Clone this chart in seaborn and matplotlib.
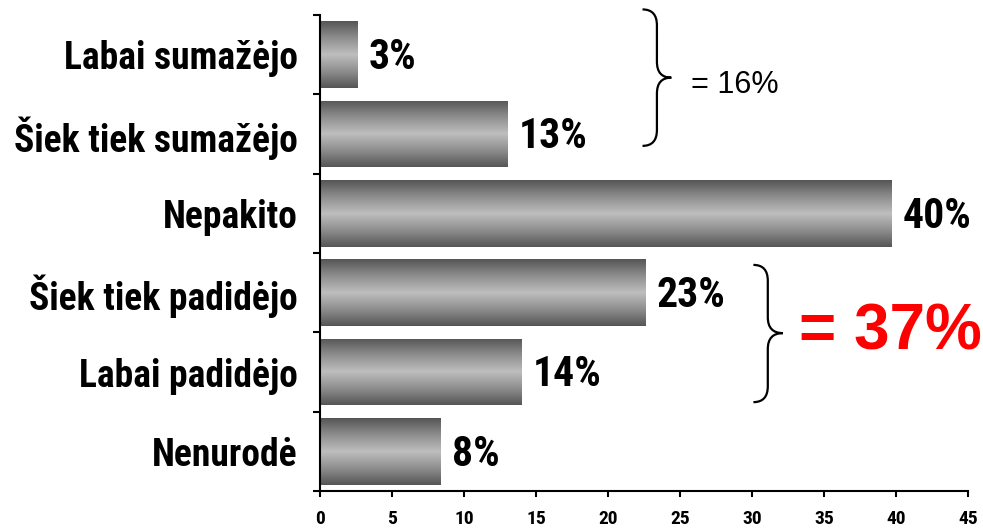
import numpy as np
import pandas as pd
import seaborn as sns
import matplotlib.pyplot as plt
from matplotlib.path import Path
from matplotlib.patches import PathPatch
from matplotlib.colors import LinearSegmentedColormap
from matplotlib.ticker import FixedLocator

# ── data ──────────────────────────────────────────────────────────────────────
categories = ["Labai sumažėjo", "Šiek tiek sumažėjo", "Nepakito",
              "Šiek tiek padidėjo", "Labai padidėjo", "Nenurodė"]
values = [2.6, 13.0, 39.7, 22.6, 14.0, 8.4]
value_labels = ["3%", "13%", "40%", "23%", "14%", "8%"]
x_ticks = [0, 5, 10, 15, 20, 25, 30, 35, 40, 45]
sum_down_label = "= 16%"
sum_up_label = "= 37%"

sns.set_style("white")
NARROW = ["Roboto Condensed", "Liberation Sans", "DejaVu Sans"]
ARIAL = ["Liberation Sans", "DejaVu Sans"]
plt.rcParams["font.family"] = NARROW

df = pd.DataFrame({"cat": categories, "val": values})

fig = plt.figure(figsize=(9.83, 5.31), dpi=100)
ax = fig.add_axes([0.3255, 0.0753, 0.6592, 0.8965])

sns.barplot(data=df, x="val", y="cat", orient="h", width=0.84,
            color="#888888", ax=ax)

# ── gradient fill clipped to each bar ─────────────────────────────────────────
cmap = LinearSegmentedColormap.from_list(
    "bar", ["#555555", "#8e8e8e", "#bebebe", "#8e8e8e", "#555555"])
grad = np.linspace(0, 1, 256).reshape(-1, 1)
for p in ax.patches:
    x0, y0 = p.get_x(), p.get_y()
    w, h = p.get_width(), p.get_height()
    p.set_facecolor("none")
    p.set_edgecolor("none")
    im = ax.imshow(grad, cmap=cmap, aspect="auto",
                   extent=(x0, x0 + w, y0 + h, y0), zorder=2,
                   interpolation="bilinear")
    im.set_clip_path(p)

ax.set_xlim(0, 45)
ax.set_ylim(len(categories) - 0.5, -0.5)

# value labels
for i, (v, lab) in enumerate(zip(values, value_labels)):
    ax.annotate(lab, (v, i), xytext=(8, -2), textcoords="offset points",
                ha="left", va="center", fontsize=30, fontweight="bold",
                family=NARROW, color="black")

# ── axes styling ──────────────────────────────────────────────────────────────
for s in ["top", "right"]:
    ax.spines[s].set_visible(False)
for s in ["left", "bottom"]:
    ax.spines[s].set_color("black")
    ax.spines[s].set_linewidth(1.5)

ax.set_xticks(x_ticks)
ax.set_xticklabels([str(t) for t in x_ticks], fontsize=14, fontweight="bold",
                   family=NARROW, color="black")
ax.tick_params(axis="x", direction="out", length=4.5, width=1.5, pad=9,
               bottom=True, color="black")
ax.set_yticks(range(len(categories)))
ax.set_yticklabels(categories, fontsize=27, fontweight="bold", family=NARROW,
                   color="black")
ax.tick_params(axis="y", which="major", length=0, pad=16)
ax.yaxis.set_minor_locator(FixedLocator(np.arange(-0.5, len(categories), 1)))
ax.tick_params(axis="y", which="minor", direction="out", length=5, width=1.5,
               left=True, color="black")
ax.set_xlabel("")
ax.set_ylabel("")


# ── braces ────────────────────────────────────────────────────────────────────
def brace(ax, x0, x1, x2, ytop, ymid, ybot, r):
    verts = [(x0, ytop), (x1, ytop), (x1, ytop + r),
             (x1, ymid - r), (x1, ymid), (x2, ymid),
             (x1, ymid), (x1, ymid + r),
             (x1, ybot - r), (x1, ybot), (x0, ybot)]
    codes = [Path.MOVETO, Path.CURVE3, Path.CURVE3,
             Path.LINETO, Path.CURVE3, Path.CURVE3,
             Path.CURVE3, Path.CURVE3,
             Path.LINETO, Path.CURVE3, Path.CURVE3]
    ax.add_patch(PathPatch(Path(verts, codes), fill=False, lw=1.6,
                           edgecolor="black", clip_on=False))


brace(ax, 22.4, 23.4, 24.4, -0.57, 0.29, 1.15, 0.2)
ax.text(25.8, 0.38, sum_down_label, fontsize=22, ha="left", va="center",
        family=ARIAL, color="black")

brace(ax, 30.1, 31.1, 32.15, 2.65, 3.51, 4.38, 0.2)
ax.text(33.3, 3.5, sum_up_label, fontsize=46, fontweight="bold", ha="left",
        va="center", family=ARIAL, color="#ff0000", clip_on=False)

fig.savefig("out.png", dpi=100)
